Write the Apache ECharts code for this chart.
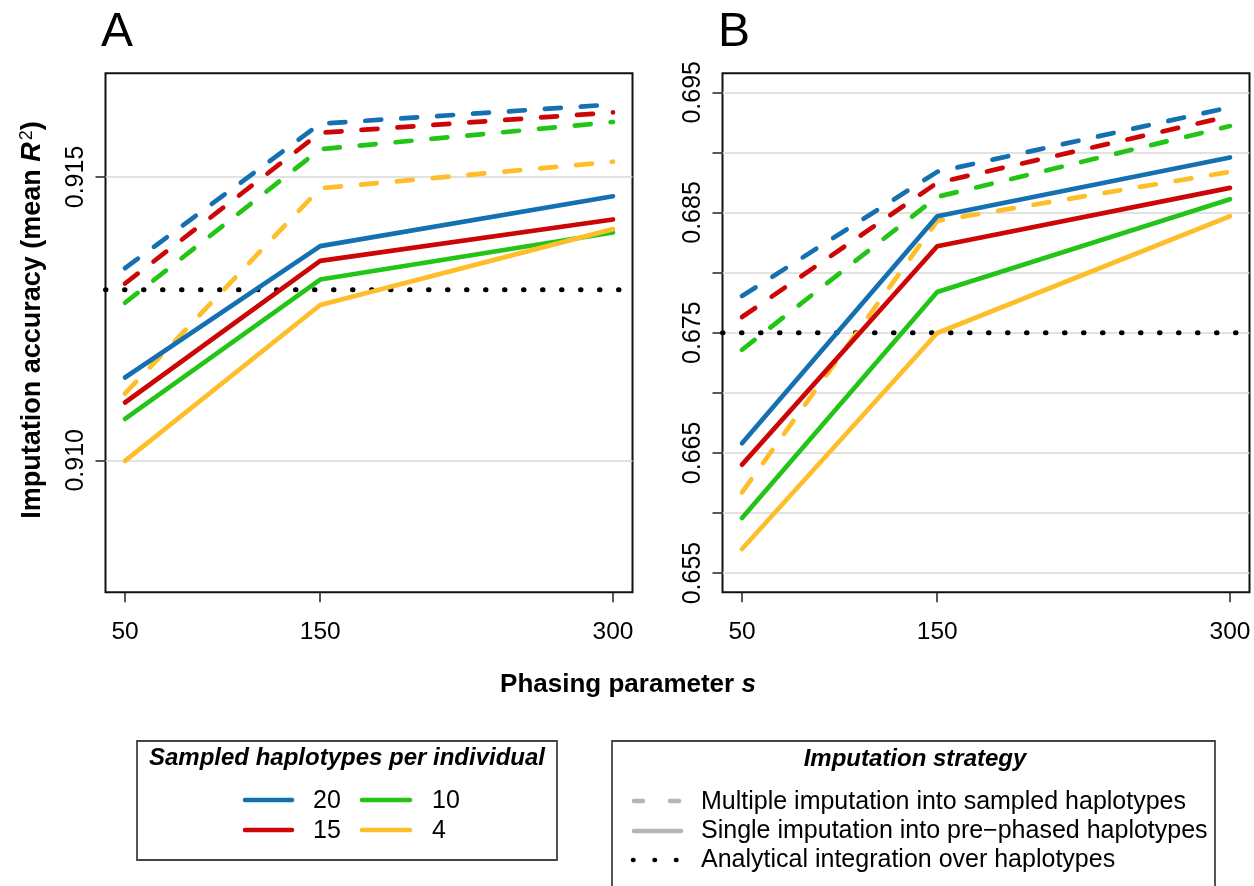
<!DOCTYPE html>
<html>
<head>
<meta charset="utf-8">
<script src="https://cdn.jsdelivr.net/npm/echarts@6/dist/echarts.min.js"></script>
<style>
html,body{margin:0;padding:0;background:#fff}
#chart{width:1254px;height:886px}
</style>
</head>
<body>
<div id="chart"></div>
<script>
// phasing parameter s
var phasingS = [50, 150, 300];
var groupNames = ['20', '15', '10', '4'];
var groupColors = ['#1470b0', '#cc0606', '#22c416', '#fdbe2a'];

// panel A - multiple imputation (dashed)
var multiA20 = [0.91339, 0.91594, 0.91628];
var multiA15 = [0.91312, 0.91578, 0.91614];
var multiA10 = [0.91278, 0.91549, 0.91597];
var multiA4 = [0.91118, 0.91480, 0.91527];
// panel A - single imputation (solid)
var singleA20 = [0.91146, 0.91378, 0.91466];
var singleA15 = [0.91102, 0.91352, 0.91425];
var singleA10 = [0.91073, 0.91319, 0.91402];
var singleA4 = [0.90999, 0.91274, 0.91408];
// panel A - analytical integration (dotted)
var analyticalA = 0.91301;

// panel B
var multiB20 = [0.67805, 0.68838, 0.69375];
var multiB15 = [0.67630, 0.68747, 0.69302];
var multiB10 = [0.67358, 0.68630, 0.69219];
var multiB4 = [0.66172, 0.68430, 0.68838];
var singleB20 = [0.66580, 0.68469, 0.68958];
var singleB15 = [0.66402, 0.68219, 0.68705];
var singleB10 = [0.65958, 0.67838, 0.68611];
var singleB4 = [0.65700, 0.67497, 0.68469];
var analyticalB = 0.675;

// tick values
var ticksA = [0.910, 0.915];
var labelsA = [0.910, 0.915];
var ticksB = [0.655, 0.660, 0.665, 0.670, 0.675, 0.680, 0.685, 0.690, 0.695];
var labelsB = [0.655, 0.665, 0.675, 0.685, 0.695];

var FONT = 'Liberation Sans, Arial, Helvetica, sans-serif';

function pairs(vals){
   return phasingS.map(function(s, i){ return [s, vals[i]]; });
}

function lineSeries(idx, vals, color, dashed){
   return {
      type: 'line',
      xAxisIndex: idx,
      yAxisIndex: idx,
      data: pairs(vals),
      symbol: 'none',
      silent: true,
      z: dashed ? 3 : 4,
      lineStyle: {
         color: color,
         width: 4.7,
         type: dashed ? [16, 20] : 'solid',
         cap: 'round',
         join: 'round'
      }
   };
}

function dottedSeries(idx, v){
   return {
      type: 'line',
      xAxisIndex: idx,
      yAxisIndex: idx,
      data: [[40, v], [310, v]],
      symbol: 'none',
      silent: true,
      z: 2,
      lineStyle: {color: '#000', width: 5, type: [0.5, 18.5], cap: 'round'}
   };
}

function buildSeries(){
   var multi = [[multiA20, multiA15, multiA10, multiA4], [multiB20, multiB15, multiB10, multiB4]];
   var single = [[singleA20, singleA15, singleA10, singleA4], [singleB20, singleB15, singleB10, singleB4]];
   var out = [];
   [0, 1].forEach(function(p){
      out.push(dottedSeries(p, p === 0 ? analyticalA : analyticalB));
      multi[p].forEach(function(vals, i){ out.push(lineSeries(p, vals, groupColors[i], true)); });
      single[p].forEach(function(vals, i){ out.push(lineSeries(p, vals, groupColors[i], false)); });
   });
   return out;
}

function xAxisFor(idx){
   return {
      gridIndex: idx,
      type: 'value',
      min: 40,
      max: 310,
      axisLine: {show: false},
      splitLine: {show: false},
      axisTick: {show: true, length: 10, customValues: phasingS, lineStyle: {color: '#222', width: 1.5}},
      axisLabel: {customValues: phasingS, fontSize: 24.5, margin: 27, color: '#000', fontFamily: FONT}
   };
}

function yAxisFor(idx, min, max, ticks, labels){
   return {
      gridIndex: idx,
      type: 'value',
      min: min,
      max: max,
      axisLine: {show: false},
      axisTick: {show: true, length: 10, customValues: ticks, lineStyle: {color: '#222', width: 1.5}},
      axisLabel: {
         customValues: labels,
         rotate: 90,
         fontSize: 25,
         margin: 17,
         color: '#000',
         fontFamily: FONT,
         formatter: function(v){ return v.toFixed(3); }
      },
      splitLine: {show: true, lineStyle: {color: '#d9d9d9', width: 1.6}}
   };
}

function txt(x, y, text, size, opts){
   opts = opts || {};
   return {
      type: 'text',
      x: x,
      y: y,
      rotation: opts.rotation || 0,
      silent: true,
      style: {
         text: text,
         fontSize: size,
         fontFamily: FONT,
         fontWeight: opts.weight || 'normal',
         fontStyle: opts.style || 'normal',
         fill: '#000',
         align: opts.align || 'left',
         textAlign: opts.align || 'left',
         verticalAlign: 'middle',
         textVerticalAlign: 'middle',
         rich: opts.rich
      }
   };
}

function seg(x1, x2, y, color, dash, width){
   return {
      type: 'line',
      silent: true,
      shape: {x1: x1, y1: y, x2: x2, y2: y},
      style: {stroke: color, lineWidth: width || 4.5, lineCap: 'round', lineDash: dash || null}
   };
}

var graphics = [
   txt(101, 33, 'A', 48),
   txt(718, 33, 'B', 48),
   txt(33, 320, '{b|Imputation accuracy (mean }{i|R}{s|2}{b|)}', 27, {
      rotation: Math.PI / 2,
      align: 'center',
      rich: {
         b: {fontSize: 27, fontWeight: 'bold', fontFamily: FONT},
         i: {fontSize: 27, fontWeight: 'bold', fontStyle: 'italic', fontFamily: FONT},
         s: {fontSize: 18, fontFamily: FONT, verticalAlign: 'top', padding: [0, 0, 12, 2]}
      }
   }),
   txt(628, 685, '{b|Phasing parameter }{i|s}', 26, {
      align: 'center',
      rich: {
         b: {fontSize: 26, fontWeight: 'bold', fontFamily: FONT},
         i: {fontSize: 26, fontWeight: 'bold', fontStyle: 'italic', fontFamily: FONT}
      }
   }),
   // legend: sampled haplotypes
   {type: 'rect', silent: true, shape: {x: 137, y: 741, width: 420, height: 119},
      style: {fill: 'none', stroke: '#444', lineWidth: 1.8}},
   txt(347, 758, 'Sampled haplotypes per individual', 24, {align: 'center', weight: 'bold', style: 'italic'}),
   seg(245, 292, 800, groupColors[0]),
   txt(313, 801, groupNames[0], 25),
   seg(362, 410, 800, groupColors[2]),
   txt(432, 801, groupNames[2], 25),
   seg(245, 292, 830, groupColors[1]),
   txt(313, 831, groupNames[1], 25),
   seg(362, 410, 830, groupColors[3]),
   txt(432, 831, groupNames[3], 25),
   // legend: imputation strategy
   {type: 'rect', silent: true, shape: {x: 612, y: 741, width: 603, height: 170},
      style: {fill: 'none', stroke: '#444', lineWidth: 1.8}},
   txt(915, 759, 'Imputation strategy', 24, {align: 'center', weight: 'bold', style: 'italic'}),
   seg(634, 679, 801, '#b5b5b5', [9, 27]),
   txt(701, 802, 'Multiple imputation into sampled haplotypes', 25),
   seg(634, 681, 831, '#b5b5b5'),
   txt(701, 831, 'Single imputation into pre\u2212phased haplotypes', 25),
   seg(633, 677, 860, '#000', [0.5, 21], 4.5),
   txt(701, 860, 'Analytical integration over haplotypes', 25)
];

var myChart = echarts.init(document.getElementById('chart'));
var option = {
   animation: false,
   backgroundColor: '#fff',
   grid: [
      {left: 105.5, top: 73.3, width: 527, height: 519, show: true, borderColor: '#111', borderWidth: 2, backgroundColor: 'transparent'},
      {left: 722.5, top: 73.3, width: 527, height: 519, show: true, borderColor: '#111', borderWidth: 2, backgroundColor: 'transparent'}
   ],
   xAxis: [xAxisFor(0), xAxisFor(1)],
   yAxis: [
      yAxisFor(0, 0.90767, 0.91683, ticksA, labelsA),
      yAxisFor(1, 0.65340, 0.69658, ticksB, labelsB)
   ],
   series: buildSeries(),
   graphic: graphics
};
myChart.setOption(option);
</script>
</body>
</html>
